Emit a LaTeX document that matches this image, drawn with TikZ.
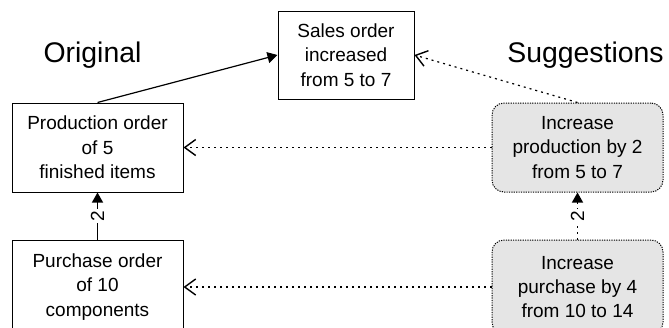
\documentclass[tikz,border=0pt]{standalone}
\usepackage{fontspec}
\setmainfont{Liberation Sans}
\usetikzlibrary{arrows.meta}
\begin{document}
\begin{tikzpicture}[x=0.5pt,y=-0.5pt,
  order/.style={draw,line width=0.5pt,align=center,inner sep=0pt,minimum width=85.5pt,minimum height=44.5pt,font=\fontsize{9.5}{12.2}\selectfont},
  suggest/.style={order,fill=black!10,rounded corners=6pt,dash pattern=on 0.6pt off 0.6pt},
  heading/.style={font=\fontsize{14.2}{17}\selectfont},
  link/.style={line width=0.6pt,-{Triangle[length=5pt,width=5.5pt]}},
  hint/.style={line width=0.6pt,dash pattern=on 1pt off 2pt,-{Straight Barb[length=5.5pt,width=8pt,line width=0.7pt]}},
  qty/.style={fill=white,inner sep=1pt,rotate=90,font=\fontsize{9.5}{12}\selectfont}]
\useasboundingbox (0,0) rectangle (669,327);
\node[heading] (orig) at (92.5,55) {Original};\node[heading] (sugg) at (585.5,55) {Suggestions};
\node[order,minimum width=68pt,minimum height=44pt] (sales) at (346,55) {Sales order\\increased\\from 5 to 7};
\node[order] (prod) at (97.5,147.5) {Production order\\of 5\\finished items};
\node[order,minimum height=47pt] (purch) at (97.5,287) {Purchase order\\of 10\\components};
\node[suggest] (incprod) at (577.5,147.5) {Increase\\production by 2\\from 5 to 7};
\node[suggest,minimum height=47pt] (incpurch) at (577.5,287) {Increase\\purchase by 4\\from 10 to 14};
\draw[link] (prod.north) -- (sales.west);
\draw[link] (purch.north) -- node[qty] (q1) {2} (prod.south);
\draw[link,dash pattern=on 1pt off 2pt] (incpurch.north) -- node[qty] (q2) {2} (incprod.south);
\draw[hint] (incprod.north) -- (sales.east);
\draw[hint] (incprod.west) -- (prod.east);
\draw[hint] (incpurch.west) -- (purch.east);
\end{tikzpicture}
\end{document}
